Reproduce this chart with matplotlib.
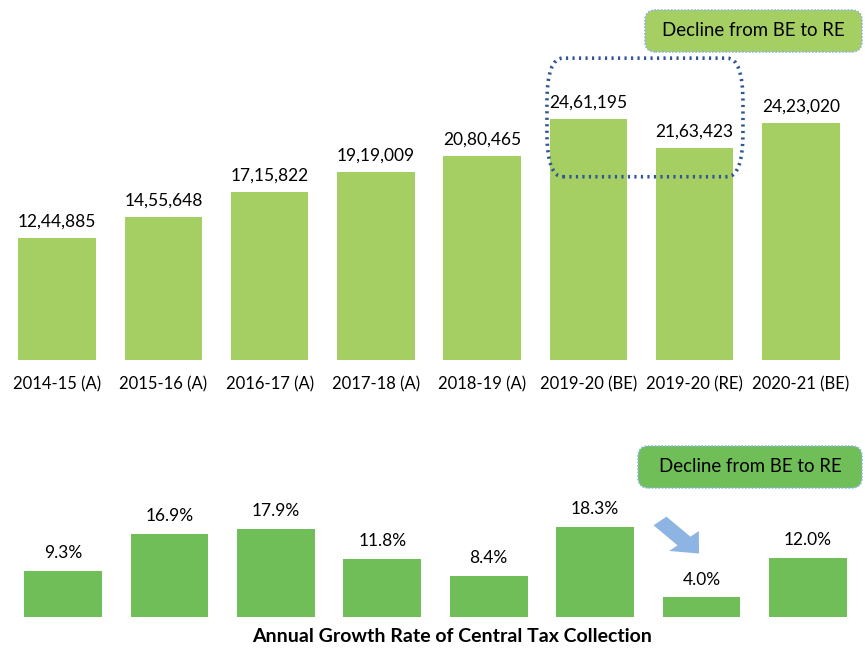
import matplotlib.pyplot as plt
from matplotlib.patches import FancyBboxPatch, FancyArrow

plt.rcParams['font.family'] = ['Lato', 'DejaVu Sans']

years = ['2014-15 (A)', '2015-16 (A)', '2016-17 (A)', '2017-18 (A)', '2018-19 (A)',
         '2019-20 (BE)', '2019-20 (RE)', '2020-21 (BE)']
collection = [1244885, 1455648, 1715822, 1919009, 2080465, 2461195, 2163423, 2423020]
collection_labels = ['12,44,885', '14,55,648', '17,15,822', '19,19,009', '20,80,465',
                     '24,61,195', '21,63,423', '24,23,020']
growth = [9.3, 16.9, 17.9, 11.8, 8.4, 18.3, 4.0, 12.0]

top_green = '#a5cf62'
bottom_green = '#6fbe58'

W, H = 865, 648
fig = plt.figure(figsize=(W / 100, H / 100), dpi=100)

# top chart: tax collection
ax = fig.add_axes([4 / W, (H - 360) / H, 850 / W, 294 / H])
x = range(len(years))
bars = ax.bar(x, collection, width=0.73, color=top_green)
ax.bar_label(bars, labels=collection_labels, padding=6, fontsize=12.5)
ax.set_xlim(-0.5, 7.5)
ax.set_ylim(0, 3000000)
ax.set_xticks(list(x))
ax.set_xticklabels(years, fontsize=12)
ax.tick_params(axis='x', length=0, pad=12)
ax.set_yticks([])
for s in ax.spines.values():
    s.set_visible(False)

# dotted box round BE / RE bars
ax.add_patch(FancyBboxPatch((4.61, 1.87e6), 1.845, 1.21e6,
                            boxstyle='round,pad=0,rounding_size=0.15',
                            mutation_aspect=1e6 / 0.33,
                            fill=False, edgecolor='#2f5597', linewidth=2.6,
                            linestyle=(0, (0.6, 1.2)), clip_on=False))

# bottom chart: growth rate
ax2 = fig.add_axes([10 / W, (H - 617) / H, 851 / W, 98.6 / H])
bars2 = ax2.bar(x, growth, width=0.73, color=bottom_green)
ax2.bar_label(bars2, labels=[f'{g:.1f}%' for g in growth], padding=7, fontsize=12.5)
ax2.set_xlim(-0.5, 7.5)
ax2.set_ylim(0, 20)
ax2.set_xticks([])
ax2.set_yticks([])
for s in ax2.spines.values():
    s.set_visible(False)

fig.text(452 / W, 1 - 637 / H, 'Annual Growth Rate of Central Tax Collection',
         ha='center', va='center', fontsize=14, fontweight='bold')

# callout boxes
def callout(x0, y0, x1, y1, color):
    fig.patches.append(FancyBboxPatch((x0 / W, 1 - y1 / H), (x1 - x0) / W, (y1 - y0) / H,
                                      boxstyle='round,pad=0,rounding_size=0.012',
                                      mutation_aspect=W / H,
                                      transform=fig.transFigure, facecolor=color,
                                      edgecolor='#8eb4e3', linewidth=1.2,
                                      linestyle=(0, (1, 1))))
    fig.text((x0 + x1) / 2 / W, 1 - (y0 + y1) / 2 / H, 'Decline from BE to RE',
             ha='center', va='center', fontsize=13.4)

callout(645, 10, 862, 52, top_green)
callout(638, 446, 862, 488, bottom_green)

# arrow pointing at RE growth
fig.patches.append(FancyArrow(660 / W, 1 - 521 / H, 24 / W, -20 / H,
                              width=0.02, head_width=0.046, head_length=0.026,
                              length_includes_head=False,
                              transform=fig.transFigure, color='#8eb4e3', linewidth=0))

fig.savefig('out.png', dpi=100)
